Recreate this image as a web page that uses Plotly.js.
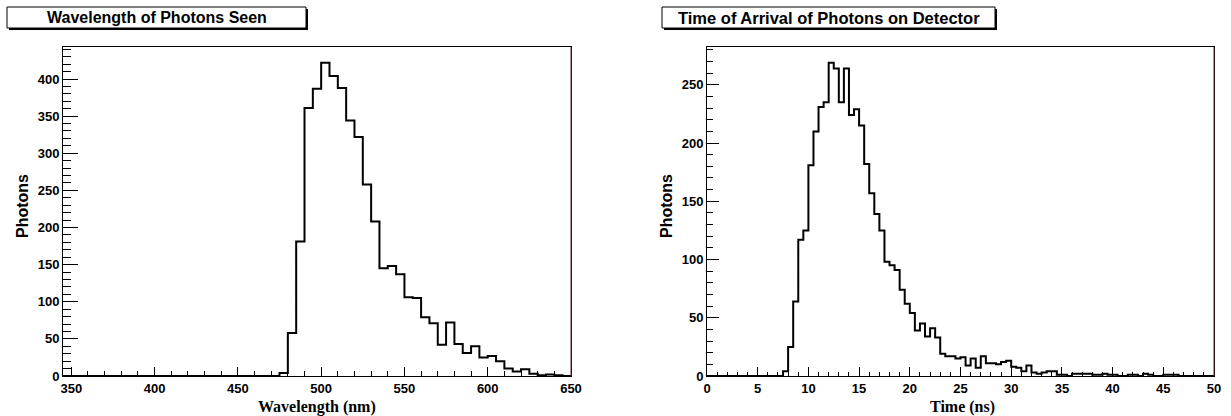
<!DOCTYPE html>
<html>
<head>
<meta charset="utf-8">
<script src="https://cdn.plot.ly/plotly-3.0.1.min.js"></script>
<style>html,body{margin:0;padding:0;background:#fff;}#chart{width:1231px;height:416px;}</style>
</head>
<body>
<div id="chart"></div>
<script>
// ---------------- DATA ----------------
const wavelengthBinStart = 345;   // nm
const wavelengthBinWidth = 5;     // nm
const wavelengthCounts = [
  0,0,0,0,0,0,0,0,0,0,0,0,0,0,0,0,0,0,0,0,0,0,0,0,0,0,   // 345..470
  4,58,181,361,387,422,404,388,344,322,258,208,145,148,137,106,105,79,71,42,72,43,31,40,25,27,20,10,6,9,3,1,2,1,0 // 475..645
];

const timeBinStart = 0;    // ns
const timeBinWidth = 0.5;  // ns
const timeCounts = [
  0,0,0,0,0,0,0,0,0,0,0,0,0,0,0,          // 0..7
  4,25,64,117,125,181,210,231,235,269,264,235,264,224,229,215,182,157,139,125,
  98,95,91,74,62,54,39,45,34,41,33,19,17,17,15,16,9,15,7,17,
  11,11,10,12,13,8,7,4,9,3,2,3,4,4,1,1,0,2,2,2,
  2,1,1,2,1,1,0,0,1,1,0,2,1,0,0,1,1,1,0,
  0,0,0,0,0,0                              // 47..49.5
];

const leftTitle = "Wavelength of Photons Seen";
const rightTitle = "Time of Arrival of Photons on Detector";
const leftXLabel = "Wavelength (nm)";
const rightXLabel = "Time (ns)";
const yLabel = "Photons";

// ---------------- HELPERS ----------------
const W = 1231, H = 416;
const px = x => x / W;
const py = y => 1 - y / H;

function stepTrace(start, width, counts, xa, ya) {
  const xs = [], ys = [];
  for (let i = 0; i < counts.length; i++) { xs.push(start + i * width); ys.push(counts[i]); }
  xs.push(start + counts.length * width); ys.push(counts[counts.length - 1]);
  return { x: xs, y: ys, xaxis: xa, yaxis: ya, type: 'scatter', mode: 'lines',
           line: { shape: 'hv', color: '#000', width: 2 }, hoverinfo: 'skip', showlegend: false };
}

const tickFont = { family: 'Liberation Sans, Arial, sans-serif', size: 13, color: '#000', weight: 'bold' };

function axisBase(extra) {
  return Object.assign({
    showgrid: false, zeroline: false, showline: true, mirror: true,
    linecolor: '#000', linewidth: 1, ticks: 'inside', tickcolor: '#000', tickwidth: 1,
    tickfont: tickFont, fixedrange: true
  }, extra);
}

const wlMax = Math.max(...wavelengthCounts) * 1.05;
const tMax = Math.max(...timeCounts) * 1.05;

const layout = {
  width: W, height: H,
  margin: { l: 0, r: 0, t: 0, b: 0 },
  paper_bgcolor: '#fff', plot_bgcolor: '#fff',
  showlegend: false,
  xaxis: axisBase({ domain: [px(63), px(571)], range: [wavelengthBinStart, wavelengthBinStart + wavelengthCounts.length * wavelengthBinWidth],
    tick0: 350, dtick: 50, ticklen: 9, anchor: 'y',
    minor: { dtick: 10, tick0: 350, ticks: 'inside', ticklen: 5, tickcolor: '#000', tickwidth: 1, showgrid: false } }),
  yaxis: axisBase({ domain: [py(376), py(47)], range: [0, wlMax], tick0: 0, dtick: 50, ticklen: 15, anchor: 'x',
    minor: { dtick: 10, tick0: 0, ticks: 'inside', ticklen: 8, tickcolor: '#000', tickwidth: 1, showgrid: false } }),
  xaxis2: axisBase({ domain: [px(707), px(1214)], range: [timeBinStart, timeBinStart + timeCounts.length * timeBinWidth],
    tick0: 0, dtick: 5, ticklen: 9, anchor: 'y2',
    minor: { dtick: 1, tick0: 0, ticks: 'inside', ticklen: 4.5, tickcolor: '#000', tickwidth: 1, showgrid: false } }),
  yaxis2: axisBase({ domain: [py(376), py(47)], range: [0, tMax], tick0: 0, dtick: 50, ticklen: 12, anchor: 'x2',
    minor: { dtick: 10, tick0: 0, ticks: 'inside', ticklen: 6, tickcolor: '#000', tickwidth: 1, showgrid: false } }),
  shapes: [
    // title box shadows
    { type: 'rect', xref: 'paper', yref: 'paper', x0: px(9), x1: px(308), y0: py(30), y1: py(9), fillcolor: '#000', line: { width: 0 }, layer: 'below' },
    { type: 'rect', xref: 'paper', yref: 'paper', x0: px(7), x1: px(306), y0: py(28), y1: py(7), fillcolor: '#fff', line: { color: '#000', width: 1 } },
    { type: 'rect', xref: 'paper', yref: 'paper', x0: px(664), x1: px(997), y0: py(30), y1: py(9), fillcolor: '#000', line: { width: 0 } },
    { type: 'rect', xref: 'paper', yref: 'paper', x0: px(662), x1: px(995), y0: py(28), y1: py(7), fillcolor: '#fff', line: { color: '#000', width: 1 } },
    // right frame edges (brownish in reference)
    { type: 'line', xref: 'paper', yref: 'paper', x0: px(571), x1: px(571), y0: py(376), y1: py(47), line: { color: '#5a2a2a', width: 1 } },
    { type: 'line', xref: 'paper', yref: 'paper', x0: px(1214), x1: px(1214), y0: py(376), y1: py(47), line: { color: '#5a2a2a', width: 1 } }
  ],
  annotations: [
    { text: leftTitle, xref: 'paper', yref: 'paper', x: px(157), y: py(17.5), xanchor: 'center', yanchor: 'middle', showarrow: false,
      font: { family: 'Liberation Sans, Arial, sans-serif', size: 16, color: '#000', weight: 'bold' } },
    { text: rightTitle, xref: 'paper', yref: 'paper', x: px(829), y: py(17.5), xanchor: 'center', yanchor: 'middle', showarrow: false,
      font: { family: 'Liberation Sans, Arial, sans-serif', size: 16.5, color: '#000', weight: 'bold' } },
    { text: leftXLabel, xref: 'paper', yref: 'paper', x: px(317), y: py(407), xanchor: 'center', yanchor: 'middle', showarrow: false,
      font: { family: 'Liberation Serif, Times New Roman, serif', size: 16, color: '#000', weight: 'bold' } },
    { text: rightXLabel, xref: 'paper', yref: 'paper', x: px(962), y: py(407), xanchor: 'center', yanchor: 'middle', showarrow: false,
      font: { family: 'Liberation Serif, Times New Roman, serif', size: 16, color: '#000', weight: 'bold' } },
    { text: yLabel, xref: 'paper', yref: 'paper', x: px(22), y: py(206), xanchor: 'center', yanchor: 'middle', showarrow: false, textangle: -90,
      font: { family: 'Liberation Sans, Arial, sans-serif', size: 16, color: '#000', weight: 'bold' } },
    { text: yLabel, xref: 'paper', yref: 'paper', x: px(666), y: py(206), xanchor: 'center', yanchor: 'middle', showarrow: false, textangle: -90,
      font: { family: 'Liberation Sans, Arial, sans-serif', size: 16, color: '#000', weight: 'bold' } }
  ]
};

const data = [
  stepTrace(wavelengthBinStart, wavelengthBinWidth, wavelengthCounts, 'x', 'y'),
  stepTrace(timeBinStart, timeBinWidth, timeCounts, 'x2', 'y2')
];

Plotly.newPlot('chart', data, layout, { staticPlot: true, displayModeBar: false });
</script>
</body>
</html>
